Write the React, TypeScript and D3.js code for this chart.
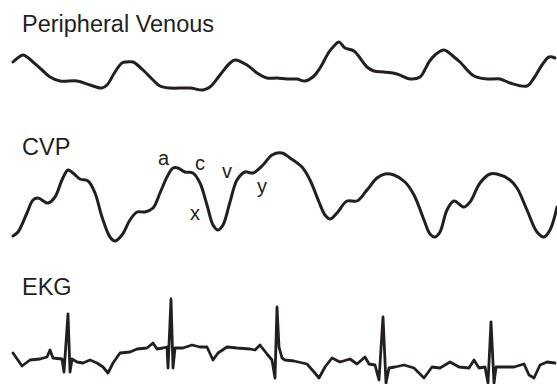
import React, { useEffect, useRef } from 'react';
import * as d3 from 'd3';

// time in samples, amplitude in arbitrary units (positive = up)
const pvTime = [0, 10, 14, 20, 29, 37, 47, 64, 77, 89, 94, 102, 109, 114, 120, 130, 140, 147, 157, 177, 190, 197, 207, 217, 222, 234, 244, 254, 264, 274, 284, 292, 301, 307, 316, 321, 326, 332, 341, 354, 361, 371, 384, 397, 407, 416, 422, 431, 441, 447, 461, 474, 487, 497, 514, 521, 529, 536, 542];
const pvValues = [30, 37, 35, 30, 22, 15, 11, 11, 7, 4, 7, 20, 29, 30, 30, 22, 12, 6, 4, 4, 2, 5, 17, 29, 32, 27, 19, 14, 14, 13, 13, 11, 16, 24, 40, 46, 50, 44, 41, 25, 21, 20, 18, 13, 15, 30, 37, 42, 35, 30, 16, 13, 13, 9, 6, 14, 27, 35, 34];

const cvpTime = [0, 5, 14, 20, 25, 35, 42, 49, 55, 60, 67, 75, 82, 89, 97, 102, 109, 117, 124, 132, 140, 147, 154, 160, 165, 172, 180, 187, 194, 200, 205, 210, 217, 224, 232, 240, 250, 259, 269, 277, 289, 297, 306, 312, 317, 324, 334, 344, 354, 364, 372, 381, 392, 401, 411, 417, 422, 427, 434, 441, 451, 457, 467, 477, 484, 497, 504, 514, 524, 531, 537, 544];
const cvpValues = [6, 10, 29, 42, 44, 39, 45, 62, 72, 69, 63, 61, 49, 25, 5, 1, 7, 22, 30, 30, 34, 49, 65, 74, 74, 70, 69, 59, 37, 17, 12, 17, 40, 62, 70, 69, 77, 87, 89, 84, 75, 62, 40, 27, 23, 29, 41, 41, 52, 64, 68, 67, 60, 47, 22, 8, 5, 10, 32, 41, 35, 40, 59, 68, 68, 62, 54, 32, 10, 5, 12, 35];

const ekgTime = [0, 9, 17, 27, 34, 37, 40, 49, 51, 55, 57, 59, 64, 70, 77, 84, 90, 95, 100, 107, 117, 124, 134, 140, 144, 150, 154, 155, 158, 160, 162, 170, 179, 187, 194, 200, 205, 214, 224, 237, 242, 247, 254, 259, 262, 264, 266, 269, 272, 281, 294, 301, 306, 312, 319, 327, 337, 344, 352, 356, 362, 366, 370, 373, 376, 382, 391, 401, 411, 419, 427, 437, 446, 456, 461, 466, 472, 475, 478, 481, 483, 491, 501, 511, 516, 521, 527, 534, 542];
const ekgValues = [7, -6, 0, 1, 3, 10, 2, 1, -12, 46, -12, 1, -2, -3, 0, -3, -7, -13, -3, 7, 8, 11, 12, 17, 11, 12, 13, -8, 61, -8, 12, 12, 15, 13, 13, 0, 7, 13, 12, 11, 10, 15, 6, 0, -18, 53, 13, 2, 0, -1, -4, -12, -18, -7, 2, -2, 1, -4, 3, -4, -5, -20, 43, -23, -8, -7, -5, -8, -18, -7, -8, -2, -7, -8, 0, -8, -7, -23, 38, -23, -7, -7, -7, -4, -15, -18, -5, -2, -3];

const titles = ['Peripheral Venous', 'CVP', 'EKG'];
const waveLabels = ['a', 'c', 'x', 'v', 'y'];
// label anchor: [time, amplitude] on the CVP scale
const waveLabelPos: [number, number][] = [[145, 77], [182, 72], [177, 22], [209, 64], [244, 49]];

const WIDTH = 557;
const HEIGHT = 384;
const INK = '#231f20';

const App: React.FC = () => {
  const svgRef = useRef<SVGSVGElement>(null);

  useEffect(() => {
    const svg = d3.select(svgRef.current);
    svg.selectAll('*').remove();

    const x = d3.scaleLinear().domain([0, 544]).range([13, 557]);

    const panels = [
      { t: pvTime, v: pvValues, y: d3.scaleLinear().domain([0, 50]).range([92, 42]), curve: d3.curveCatmullRom, w: 3, titleY: 31.5 },
      { t: cvpTime, v: cvpValues, y: d3.scaleLinear().domain([0, 90]).range([242, 152]), curve: d3.curveCatmullRom, w: 3, titleY: 155 },
      { t: ekgTime, v: ekgValues, y: d3.scaleLinear().domain([-25, 61]).range([385, 299]), curve: d3.curveLinear, w: 2.8, titleY: 295 },
    ];

    panels.forEach((p, i) => {
      const pts: [number, number][] = p.t.map((t, j) => [t, p.v[j]]);
      const line = d3.line<[number, number]>()
        .x(d => x(d[0]))
        .y(d => p.y(d[1]))
        .curve(p.curve);

      svg.append('path')
        .datum(pts)
        .attr('d', line)
        .attr('fill', 'none')
        .attr('stroke', INK)
        .attr('stroke-width', p.w)
        .attr('stroke-linejoin', 'round')
        .attr('stroke-linecap', 'round');

      svg.append('text')
        .attr('x', 22)
        .attr('y', p.titleY)
        .attr('font-family', '"Liberation Sans", Arial, sans-serif')
        .attr('font-size', 23.5)
        .attr('fill', INK)
        .text(titles[i]);
    });

    const cvpY = panels[1].y;
    svg.selectAll('text.wave')
      .data(waveLabels)
      .enter()
      .append('text')
      .attr('class', 'wave')
      .attr('x', (d, i) => x(waveLabelPos[i][0]))
      .attr('y', (d, i) => cvpY(waveLabelPos[i][1]))
      .attr('font-family', '"Liberation Sans", Arial, sans-serif')
      .attr('font-size', 20)
      .attr('fill', INK)
      .text(d => d);
  }, []);

  return (
    <div style={{ position: 'absolute', left: 0, top: 0, width: WIDTH, height: HEIGHT, background: '#fff' }}>
      <svg ref={svgRef} width={WIDTH} height={HEIGHT}></svg>
    </div>
  );
};

export default App;
